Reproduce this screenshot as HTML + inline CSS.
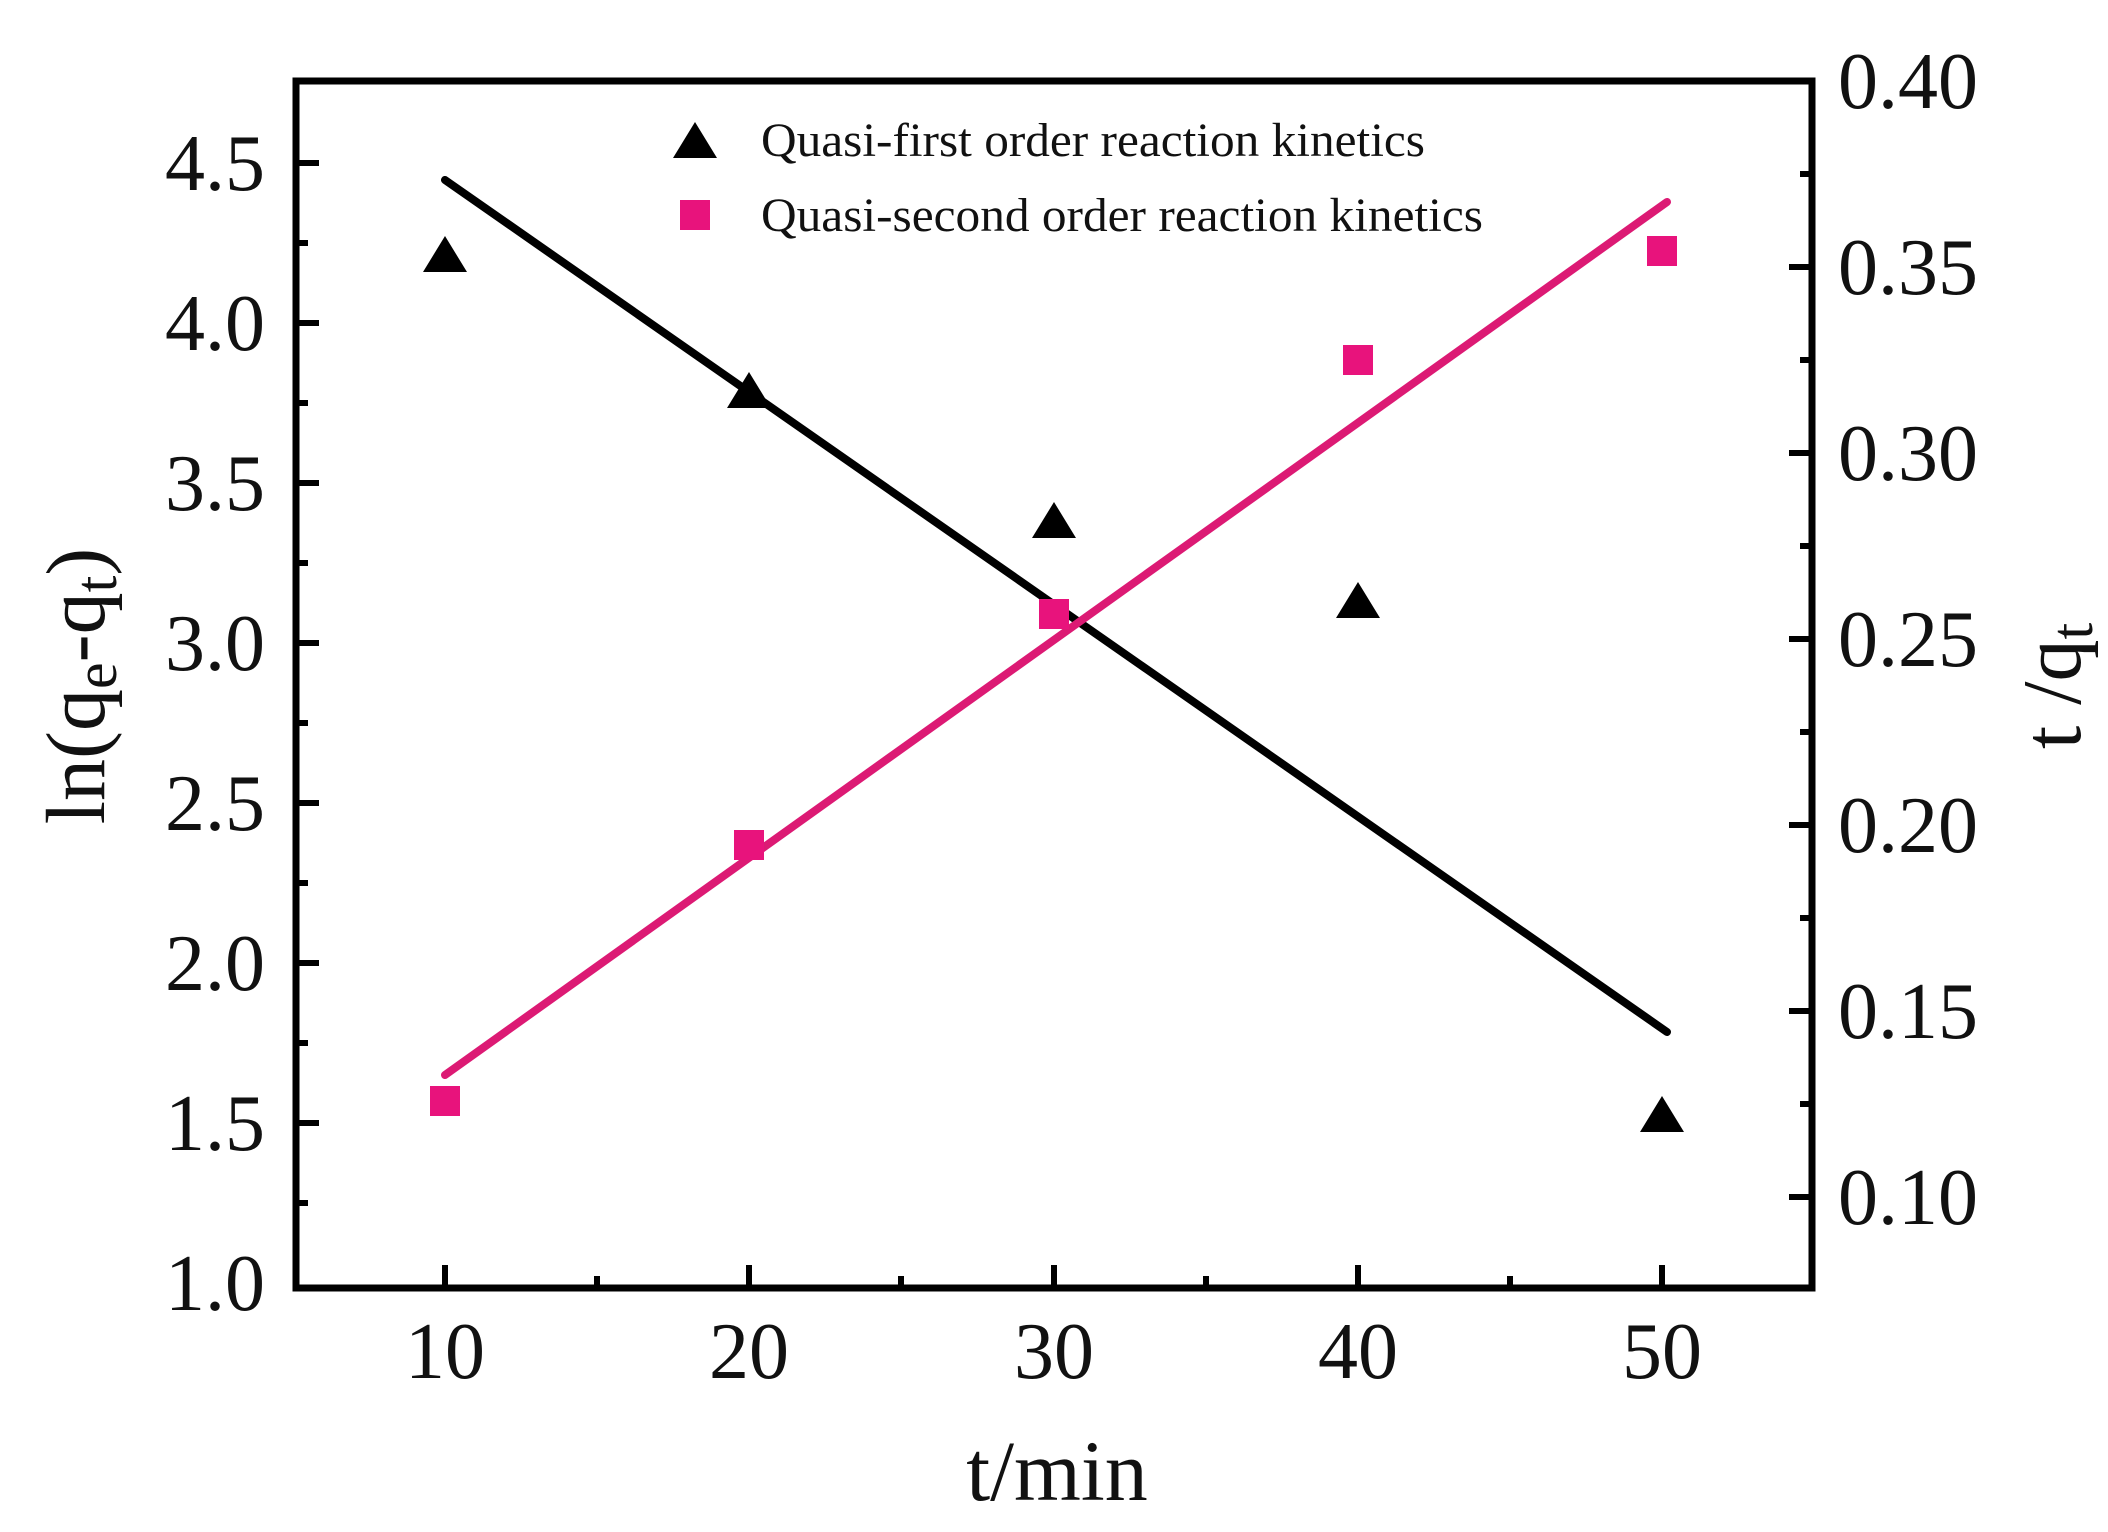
<!DOCTYPE html>
<html><head><meta charset="utf-8"><style>html,body{margin:0;padding:0;background:#fff}svg{display:block}</style></head>
<body>
<svg width="2108" height="1532" viewBox="0 0 2108 1532" xmlns="http://www.w3.org/2000/svg" font-family="'Liberation Serif', serif">
<rect width="2108" height="1532" fill="#fff"/>
<!-- fits -->
<line x1="445" y1="180" x2="1667" y2="1032" stroke="#000" stroke-width="8" stroke-linecap="round"/>
<line x1="445" y1="1075" x2="1667" y2="202" stroke="#dc1a74" stroke-width="8" stroke-linecap="round"/>
<!-- triangles -->
<g fill="#000">
<polygon points="445,236 423,272 467,272"/>
<polygon points="749,372 727,408 771,408"/>
<polygon points="1054,502 1032,538 1076,538"/>
<polygon points="1358,582 1336,618 1380,618"/>
<polygon points="1662,1096 1640,1132 1684,1132"/>
</g>
<!-- squares -->
<g fill="#e8137c">
<rect x="430" y="1086" width="30" height="30"/>
<rect x="734" y="830" width="30" height="30"/>
<rect x="1039" y="599" width="30" height="30"/>
<rect x="1343" y="345" width="30" height="30"/>
<rect x="1647" y="236" width="30" height="30"/>
</g>
<!-- frame -->
<path d="M296,81 H1812 V1288 H296 Z" fill="none" stroke="#000" stroke-width="7"/>
<g stroke="#000" stroke-width="6">
<line x1="296" y1="163" x2="319" y2="163"/><line x1="296" y1="323" x2="319" y2="323"/>
<line x1="296" y1="483" x2="319" y2="483"/><line x1="296" y1="643" x2="319" y2="643"/>
<line x1="296" y1="803" x2="319" y2="803"/><line x1="296" y1="963" x2="319" y2="963"/>
<line x1="296" y1="1123" x2="319" y2="1123"/>
<line x1="296" y1="243" x2="308" y2="243"/><line x1="296" y1="403" x2="308" y2="403"/>
<line x1="296" y1="563" x2="308" y2="563"/><line x1="296" y1="723" x2="308" y2="723"/>
<line x1="296" y1="883" x2="308" y2="883"/><line x1="296" y1="1043" x2="308" y2="1043"/>
<line x1="296" y1="1203" x2="308" y2="1203"/>
<line x1="1812" y1="1197" x2="1789" y2="1197"/><line x1="1812" y1="1011" x2="1789" y2="1011"/>
<line x1="1812" y1="825" x2="1789" y2="825"/><line x1="1812" y1="639" x2="1789" y2="639"/>
<line x1="1812" y1="453" x2="1789" y2="453"/><line x1="1812" y1="267" x2="1789" y2="267"/>
<line x1="1812" y1="1104" x2="1800" y2="1104"/><line x1="1812" y1="918" x2="1800" y2="918"/>
<line x1="1812" y1="732" x2="1800" y2="732"/><line x1="1812" y1="546" x2="1800" y2="546"/>
<line x1="1812" y1="360" x2="1800" y2="360"/><line x1="1812" y1="174" x2="1800" y2="174"/>
<line x1="445" y1="1288" x2="445" y2="1265"/><line x1="749" y1="1288" x2="749" y2="1265"/>
<line x1="1054" y1="1288" x2="1054" y2="1265"/><line x1="1358" y1="1288" x2="1358" y2="1265"/>
<line x1="1662" y1="1288" x2="1662" y2="1265"/>
<line x1="597" y1="1288" x2="597" y2="1276"/><line x1="901" y1="1288" x2="901" y2="1276"/>
<line x1="1206" y1="1288" x2="1206" y2="1276"/><line x1="1510" y1="1288" x2="1510" y2="1276"/>
</g>
<g font-size="80" text-anchor="end" fill="#111">
<text x="265" y="190">4.5</text><text x="265" y="350">4.0</text><text x="265" y="510">3.5</text>
<text x="265" y="670">3.0</text><text x="265" y="830">2.5</text><text x="265" y="990">2.0</text>
<text x="265" y="1150">1.5</text><text x="265" y="1310">1.0</text>
</g>
<g font-size="80" fill="#111">
<text x="1838" y="108">0.40</text><text x="1838" y="294">0.35</text><text x="1838" y="480">0.30</text>
<text x="1838" y="666">0.25</text><text x="1838" y="852">0.20</text><text x="1838" y="1038">0.15</text>
<text x="1838" y="1224">0.10</text>
</g>
<g font-size="80" text-anchor="middle" fill="#111">
<text x="445" y="1378">10</text><text x="749" y="1378">20</text><text x="1054" y="1378">30</text>
<text x="1358" y="1378">40</text><text x="1662" y="1378">50</text>
<text x="1057" y="1500" font-size="86">t/min</text>
</g>
<text transform="translate(104,686) rotate(-90)" text-anchor="middle" font-size="84" fill="#111">ln(q<tspan font-size="60" dy="12">e</tspan><tspan dy="-12">-q</tspan><tspan font-size="60" dy="12">t</tspan><tspan dy="-12">)</tspan></text>
<text transform="translate(2080,686) rotate(-90)" text-anchor="middle" font-size="84" fill="#111">t /q<tspan font-size="60" dy="12">t</tspan></text>
<polygon points="695,122 673,158 717,158" fill="#000"/>
<rect x="680" y="200" width="30" height="30" fill="#e8137c"/>
<g font-size="48" fill="#111">
<text x="761" y="156" textLength="664" lengthAdjust="spacingAndGlyphs">Quasi-first order reaction kinetics</text>
<text x="761" y="231" textLength="722" lengthAdjust="spacingAndGlyphs">Quasi-second order reaction kinetics</text>
</g>
</svg>
</body></html>
